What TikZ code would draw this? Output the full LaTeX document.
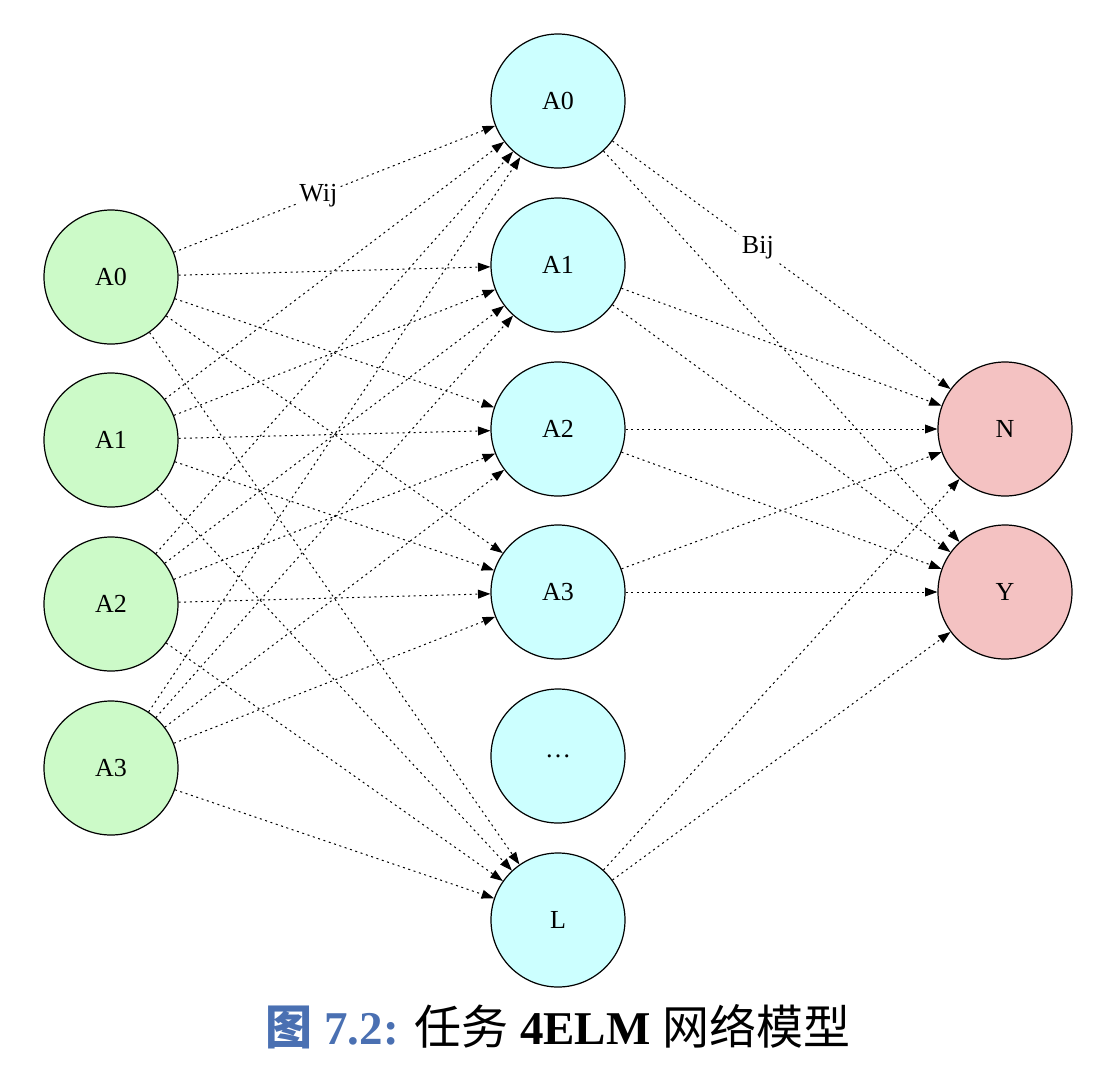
\documentclass[tikz,border=0pt]{standalone}
\usepackage{fontspec}
\setmainfont{Liberation Serif}
\newfontfamily\cjk{Noto Sans CJK SC}
\usepackage{xcolor}
\usepackage{tikz}
\usetikzlibrary{arrows.meta}
\definecolor{inputgreen}{HTML}{CCFAC8}
\definecolor{hiddencyan}{HTML}{CCFFFF}
\definecolor{outputred}{HTML}{F4C2C2}
\definecolor{figblue}{HTML}{4A70B2}
\tikzset{
    neuron/.style={draw, circle, line width=0.6pt, inner sep=0pt, minimum size=67pt, font=\fontsize{13}{15}\selectfont},
    inneuron/.style={neuron, fill=inputgreen},
    hidneuron/.style={neuron, fill=hiddencyan},
    outneuron/.style={neuron, fill=outputred},
    weight/.style={line width=0.5pt, dash pattern=on 1pt off 1.8pt, -{Triangle[length=6.2pt,width=4.4pt]}},
    wlabel/.style={fill=white, inner sep=1.5pt, font=\fontsize{13}{15}\selectfont}}

\begin{document}
\begin{tikzpicture}[x=0.5pt,y=-0.5pt]
\useasboundingbox (0,0) rectangle (1116,1078);
% input layer
\node[inneuron] (I0) at (111,277) {A0};
\node[inneuron] (I1) at (111,440) {A1};
\node[inneuron] (I2) at (111,604) {A2};
\node[inneuron] (I3) at (111,768) {A3};
% hidden layer
\node[hidneuron] (H0) at (558,101) {A0};
\node[hidneuron] (H1) at (558,265) {A1};
\node[hidneuron] (H2) at (558,429) {A2};
\node[hidneuron] (H3) at (558,592) {A3};
\node[hidneuron] (Hd) at (558,756) {\dots};
\node[hidneuron] (HL) at (558,920) {L};
% output layer
\node[outneuron] (N) at (1005,429) {N};
\node[outneuron] (Y) at (1005,592) {Y};

% input -> hidden
\draw[weight] (I0) -- node[wlabel, pos=0.45] (wij) {Wij} (H0);
\draw[weight] (I0) -- (H1);
\draw[weight] (I0) -- (H2);
\draw[weight] (I0) -- (H3);
\draw[weight] (I0) -- (HL);
\draw[weight] (I1) -- (H0);
\draw[weight] (I1) -- (H1);
\draw[weight] (I1) -- (H2);
\draw[weight] (I1) -- (H3);
\draw[weight] (I1) -- (HL);
\draw[weight] (I2) -- (H0);
\draw[weight] (I2) -- (H1);
\draw[weight] (I2) -- (H2);
\draw[weight] (I2) -- (H3);
\draw[weight] (I2) -- (HL);
\draw[weight] (I3) -- (H0);
\draw[weight] (I3) -- (H1);
\draw[weight] (I3) -- (H2);
\draw[weight] (I3) -- (H3);
\draw[weight] (I3) -- (HL);
% hidden -> output
\draw[weight] (H0) -- node[wlabel, pos=0.43] (bij) {Bij} (N);
\draw[weight] (H0) -- (Y);
\draw[weight] (H1) -- (N);
\draw[weight] (H1) -- (Y);
\draw[weight] (H2) -- (N);
\draw[weight] (H2) -- (Y);
\draw[weight] (H3) -- (N);
\draw[weight] (H3) -- (Y);
\draw[weight] (HL) -- (N);
\draw[weight] (HL) -- (Y);

% caption
\node[font=\fontsize{23.5}{27}\selectfont] (caption) at (558,1027)
  {{\color{figblue}\bfseries{\cjk\bfseries 图} 7.2:} {\cjk 任务} \textbf{4ELM} {\cjk 网络模型}};
\end{tikzpicture}
\end{document}
